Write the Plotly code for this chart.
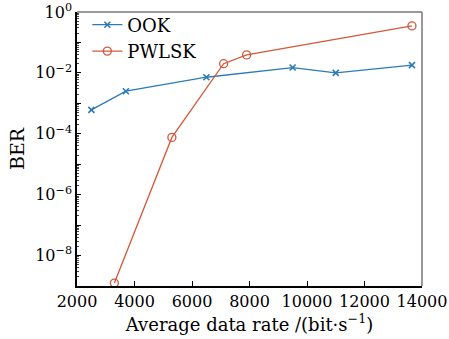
import plotly.graph_objects as go

ook_x = [2500, 3700, 6500, 9500, 11000, 13650]
ook_y = [6.1e-4, 2.5e-3, 7.2e-3, 1.5e-2, 1.0e-2, 1.8e-2]
pw_x = [3300, 5300, 7100, 7900, 13650]
pw_y = [1.25e-9, 7.6e-5, 2.0e-2, 3.9e-2, 0.35]

x_ticks = [2000, 4000, 6000, 8000, 10000, 12000, 14000]
x_ticktext = ["2000", "4000", "6000", "8000", "10000", "12000", "14000"]
y_tickvals = [1e0, 1e-1, 1e-2, 1e-3, 1e-4, 1e-5, 1e-6, 1e-7, 1e-8, 1e-9]
y_ticktext = ["10<sup>0</sup>", "", "10<sup>\u22122</sup>", "", "10<sup>\u22124</sup>", "",
              "10<sup>\u22126</sup>", "", "10<sup>\u22128</sup>", ""]

blue = "#2c7bb6"
red = "#d4583b"
font = "DejaVu Serif"

fig = go.Figure()
fig.add_trace(go.Scatter(x=ook_x, y=ook_y, name="OOK", mode="lines+markers",
                         line=dict(color=blue, width=1.3),
                         marker=dict(symbol="x-thin", size=6, color=blue,
                                     line=dict(color=blue, width=1.6))))
fig.add_trace(go.Scatter(x=pw_x, y=pw_y, name="PWLSK", mode="lines+markers",
                         line=dict(color=red, width=1.3),
                         marker=dict(symbol="circle-open", size=8, color=red,
                                     line=dict(color=red, width=1.3))))

fig.update_layout(
    width=449, height=339,
    margin=dict(l=77, r=27, t=12, b=53, autoexpand=False),
    paper_bgcolor="white", plot_bgcolor="white",
    font=dict(family=font, size=16, color="black"),
    showlegend=True,
    legend=dict(x=0.03, y=1.02, xanchor="left", yanchor="top",
                bgcolor="rgba(0,0,0,0)", font=dict(family=font, size=18),
                tracegroupgap=0, itemwidth=30),
    xaxis=dict(range=[2000, 14000], tickmode="array", tickvals=x_ticks, ticktext=x_ticktext,
               ticks="inside", ticklen=5, tickfont=dict(family=font, size=16),
               ticklabeloverflow="allow", automargin=False,
               tickcolor="black", showline=True, linecolor="black", linewidth=1.5,
               showgrid=False, zeroline=False, mirror=False,
               title=dict(text="Average data rate /(bit\u00b7s<sup>\u22121</sup>)", standoff=0,
                          font=dict(family=font, size=18))),
    yaxis=dict(type="log", range=[-9, 0], tickmode="array", tickvals=y_tickvals,
               ticktext=y_ticktext, ticks="inside", ticklen=4, tickcolor="black",
               tickfont=dict(family=font, size=16), ticklabeloverflow="allow",
               automargin=False,
               showline=True, linecolor="black", linewidth=1.5, showgrid=False,
               zeroline=False,
               minor=dict(ticks="inside", ticklen=2, tickcolor="#444", dtick="D1"),
               title=dict(text="BER", standoff=6, font=dict(family=font, size=19))),
)
# gray top/right frame
fig.add_shape(type="line", xref="paper", yref="paper", x0=0, x1=1, y0=1, y1=1,
              line=dict(color="#777777", width=1.5))
fig.add_shape(type="line", xref="paper", yref="paper", x0=1, x1=1, y0=0, y1=1,
              line=dict(color="#777777", width=1.5))

fig.write_html("out.html")
